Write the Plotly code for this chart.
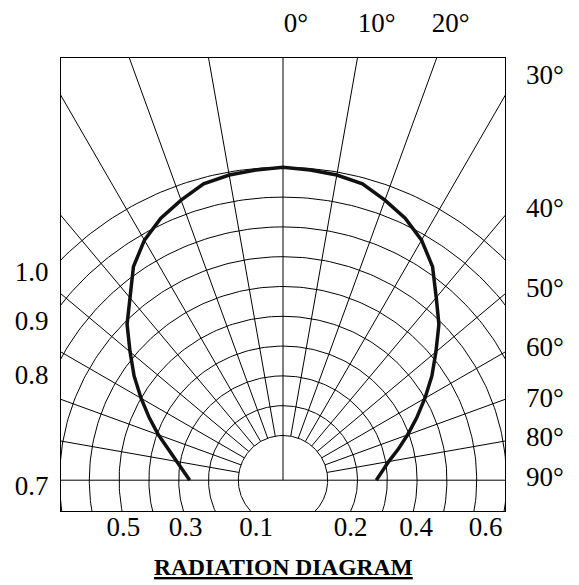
import numpy as np
import plotly.graph_objects as go

# radiation pattern: relative intensity vs angle off axis (deg)
ANGLES = list(range(-90, 91, 5))
INTENSITY = [0.263, 0.285, 0.31, 0.35, 0.395, 0.445, 0.50, 0.56, 0.62, 0.69,
             0.75, 0.825, 0.88, 0.92, 0.95, 0.98, 0.99, 0.995,
             1.00,
             0.995, 0.99, 0.98, 0.95, 0.92, 0.88, 0.825, 0.75, 0.69, 0.62,
             0.56, 0.50, 0.445, 0.395, 0.35, 0.31, 0.285, 0.263]

# polar grid
RING_LEVELS = [0.1, 0.2, 0.3, 0.4, 0.5, 0.6, 0.7, 0.8, 0.9, 1.0]
SPOKE_ANGLES = [-80, -70, -60, -50, -40, -30, -20, -10, 10, 20, 30, 40, 50, 60, 70, 80]
R0 = 0.05  # radius of the zero level

# labels round the frame
LEFT_TEXT = ["1.0", "0.9", "0.8", "0.7"]
LEFT_POS = [0.701, 0.536, 0.356, -0.017]
BOTTOM_TEXT = ["0.5", "0.3", "0.1", "0.2", "0.4", "0.6"]
BOTTOM_POS = [-0.536, -0.327, -0.090, 0.227, 0.447, 0.680]
TOP_TEXT = ["0°", "10°", "20°"]
TOP_POS = [0.043, 0.314, 0.563]
RIGHT_TEXT = ["30°", "40°", "50°", "60°", "70°", "80°", "90°"]
RIGHT_POS = [1.361, 0.915, 0.647, 0.447, 0.278, 0.147, 0.012]

XR = [-0.745, 0.745]
YR = [-0.1034, 1.4168]
FONT = "Liberation Serif, Times New Roman, serif"


def polar_xy(ang_deg, r):
    a = np.radians(np.asarray(ang_deg, dtype=float))
    r = np.asarray(r, dtype=float)
    return r * np.sin(a), r * np.cos(a)


fig = go.Figure()

# rings (full circles, clipped by the frame)
t = np.linspace(0, 360, 361)
gx, gy = [], []
for lev in RING_LEVELS:
    x, y = polar_xy(t, np.full_like(t, R0 + lev))
    gx += list(x) + [None]
    gy += list(y) + [None]

# spokes from inner ring outwards
for a in SPOKE_ANGLES:
    x, y = polar_xy([a, a], [R0 + RING_LEVELS[0], 3.0])
    gx += list(x) + [None]
    gy += list(y) + [None]
# 0 deg axis and the 90 deg baseline
x, y = polar_xy([0, 0], [0, 3.0])
gx += list(x) + [None]
gy += list(y) + [None]
x, y = polar_xy([-90, 90], [3.0, 3.0])
gx += list(x) + [None]
gy += list(y) + [None]

fig.add_trace(go.Scatter(x=gx, y=gy, mode="lines",
                         line=dict(color="black", width=1),
                         hoverinfo="skip", showlegend=False))

cx, cy = polar_xy(ANGLES, np.array(INTENSITY) + R0)
fig.add_trace(go.Scatter(x=cx, y=cy, mode="lines",
                         line=dict(color="#111111", width=3.5),
                         name="pattern", showlegend=False))

# dummy trace so the top/right label axes get drawn
fig.add_trace(go.Scatter(x=[None], y=[None], xaxis="x2", yaxis="y2",
                         mode="lines", showlegend=False, hoverinfo="skip"))

tickfont = dict(family=FONT, size=27, color="black")

# page body has an 8px margin, so the figure is 8px smaller each way
fig.update_layout(
    width=571, height=577,
    margin=dict(l=53, r=74, t=50, b=74),
    paper_bgcolor="white", plot_bgcolor="white",
    showlegend=False,
    xaxis=dict(range=XR, showgrid=False, zeroline=False, automargin=False,
               showline=True, mirror=True, linecolor="black", linewidth=1,
               ticks="", tickvals=BOTTOM_POS, ticktext=BOTTOM_TEXT,
               tickfont=tickfont, ticklabelstandoff=-8, fixedrange=True),
    yaxis=dict(range=YR, showgrid=False, zeroline=False, automargin=False,
               showline=True, mirror=True, linecolor="black", linewidth=1,
               ticks="", tickvals=LEFT_POS, ticktext=LEFT_TEXT,
               tickfont=tickfont, ticklabelstandoff=6, fixedrange=True),
    xaxis2=dict(range=XR, overlaying="x", side="top", showgrid=False,
                zeroline=False, showline=False, ticks="", automargin=False,
                tickvals=TOP_POS, ticktext=TOP_TEXT, tickfont=tickfont,
                ticklabelstandoff=20, fixedrange=True),
    yaxis2=dict(range=YR, overlaying="y", side="right", showgrid=False,
                zeroline=False, showline=False, ticks="", automargin=False,
                tickvals=RIGHT_POS, ticktext=RIGHT_TEXT, tickfont=tickfont,
                ticklabelstandoff=20, fixedrange=True),
    annotations=[dict(text="<b><u>RADIATION DIAGRAM</u></b>",
                      xref="paper", yref="paper", x=0.5, y=0,
                      xanchor="center", yanchor="top", yshift=-41,
                      showarrow=False,
                      font=dict(family=FONT, size=23.5, color="black"))],
)

fig.write_html("out.html")
